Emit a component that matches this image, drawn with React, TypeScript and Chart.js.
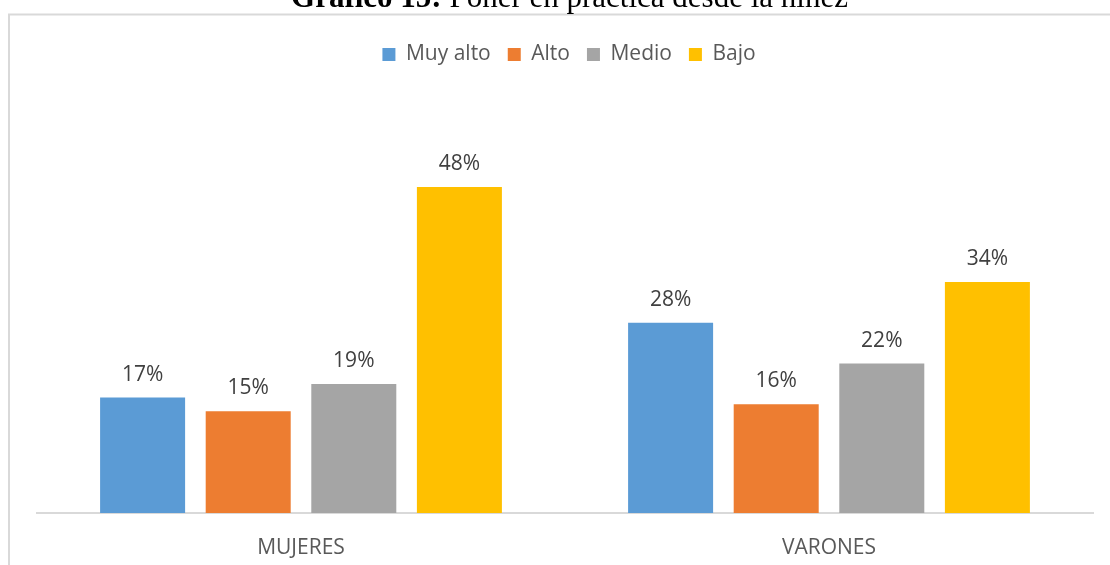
import React, { useEffect, useRef } from "react";
import { Chart, registerables } from "chart.js";

Chart.register(...registerables);

const categories = ["MUJERES", "VARONES"];
const seriesNames = ["Muy alto", "Alto", "Medio", "Bajo"];
const muyAlto = [17, 28];
const alto = [15, 16];
const medio = [19, 22];
const bajo = [48, 34];
const seriesColors = ["#5B9BD5", "#ED7D31", "#A5A5A5", "#FFC000"];
const titleBold = "Gráfico 15:";
const titleRest = " Poner en práctica desde la niñez";

const FONT = "'Open Sans', 'Liberation Sans', sans-serif";

const decorPlugin = {
  id: "decor",
  afterLayout(chart: any) {
    if (chart.legend) {
      chart.legend.left += 4;
      chart.legend.right += 4;
    }
  },
  afterDraw(chart: any) {
    const ctx = chart.ctx;
    ctx.save();
    ctx.strokeStyle = "#d9d9d9";
    ctx.lineWidth = 2;
    ctx.beginPath();
    ctx.moveTo(9, 565);
    ctx.lineTo(9, 14.5);
    ctx.lineTo(1110, 14.5);
    ctx.stroke();
    ctx.fillStyle = "#000";
    ctx.textBaseline = "alphabetic";
    ctx.font = "bold 31px 'Liberation Serif', 'Times New Roman', serif";
    const wb = ctx.measureText(titleBold).width;
    ctx.font = "31px 'Liberation Serif', 'Times New Roman', serif";
    const wr = ctx.measureText(titleRest).width;
    const x0 = 569.5 - (wb + wr) / 2;
    ctx.font = "bold 31px 'Liberation Serif', 'Times New Roman', serif";
    ctx.textAlign = "left";
    ctx.fillText(titleBold, x0, 6.5);
    ctx.font = "31px 'Liberation Serif', 'Times New Roman', serif";
    ctx.fillText(titleRest, x0 + wb, 6.5);
    ctx.restore();
  },
};

const labelPlugin = {
  id: "barLabels",
  afterDatasetsDraw(chart: any) {
    const ctx = chart.ctx;
    ctx.save();
    ctx.font = `21px ${FONT}`;
    ctx.fillStyle = "#404040";
    ctx.textAlign = "center";
    ctx.textBaseline = "alphabetic";
    chart.data.datasets.forEach((ds: any, i: number) => {
      const meta = chart.getDatasetMeta(i);
      meta.data.forEach((bar: any, j: number) => {
        ctx.fillText(ds.data[j] + "%", bar.x, bar.y - 17);
      });
    });
    ctx.restore();
  },
};

export default function App() {
  const ref = useRef<HTMLCanvasElement>(null);
  useEffect(() => {
    if (!ref.current) return;
    const seriesData = [muyAlto, alto, medio, bajo];
    const chart = new Chart(ref.current, {
      type: "bar",
      data: {
        labels: categories,
        datasets: seriesNames.map((name, i) => ({
          label: name,
          data: seriesData[i],
          backgroundColor: seriesColors[i],
          borderWidth: 0,
          categoryPercentage: 0.8,
          barPercentage: 0.805,
        })),
      },
      options: {
        animation: false,
        responsive: false,
        layout: { padding: { left: 37, right: 17, top: 27, bottom: 0 } },
        plugins: {
          legend: {
            position: "top",
            labels: {
              boxWidth: 13,
              boxHeight: 13,
              padding: 17,
              color: "#595959",
              font: { family: FONT, size: 21 },
            },
          },
          tooltip: { enabled: false },
          title: { display: false },
        },
        scales: {
          y: { display: false, min: 0, max: 64.5 },
          x: {
            grid: { display: false },
            border: { display: true, color: "#d9d9d9", width: 2 },
            ticks: { color: "#595959", font: { family: FONT, size: 21 }, padding: 14 },
            afterFit: (scale: any) => {
              scale.height = 52;
            },
          },
        },
      },
      plugins: [decorPlugin, labelPlugin],
    });
    return () => chart.destroy();
  }, []);
  return (
    <div style={{ position: "absolute", left: 0, top: 0, width: 1110, height: 565, background: "#fff" }}>
      <canvas ref={ref} width={1110} height={565} style={{ display: "block" }} />
    </div>
  );
}
